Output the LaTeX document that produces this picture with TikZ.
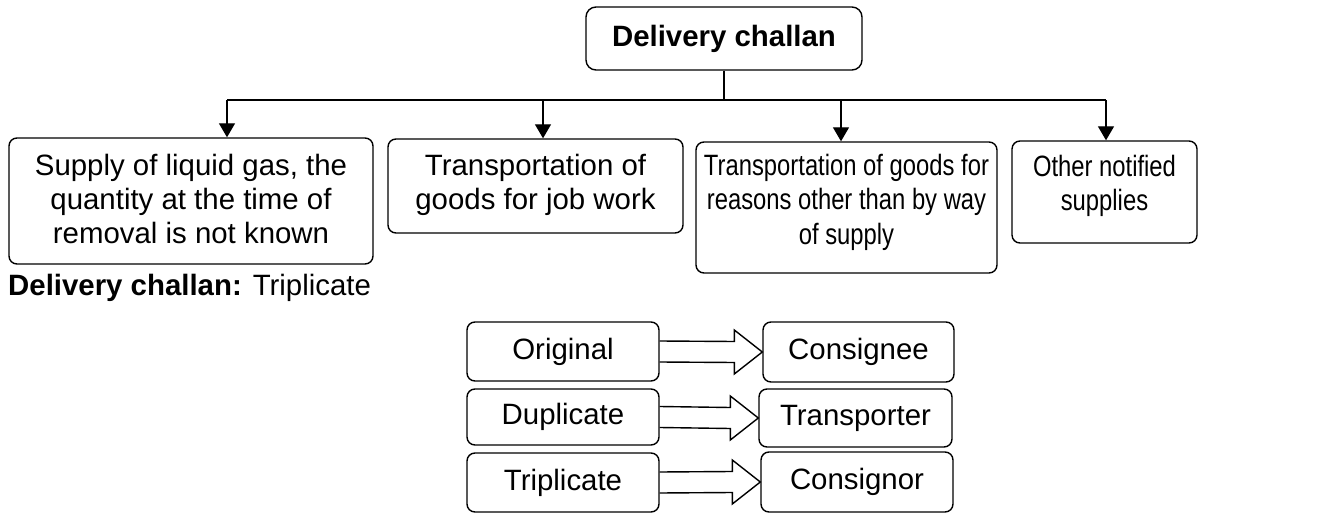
\documentclass[tikz,border=0pt]{standalone}
\usepackage{fontspec}
\setmainfont{Liberation Sans}
\newfontfamily\narrowfont[FakeStretch=0.81]{Liberation Sans}
\usetikzlibrary{calc,arrows.meta}
\newcommand\dropby[1]{\rule[-#1]{0pt}{#1}}
\begin{document}
\begin{tikzpicture}[x=1pt,y=-1pt,
  txt/.style={font=\fontsize{29.4}{34}\selectfont},
  box/.style={txt,draw,line width=1.4pt,rounded corners=8pt,align=center,inner sep=0pt},
  nbox/.style={box,font=\fontsize{29.4}{34.5}\selectfont\narrowfont},
  conn/.style={line width=1.4pt},
  arr/.style={line width=1.4pt,-{Triangle[width=16pt,length=14pt]}},
  blk/.style={line width=1.4pt,line join=miter}]
\useasboundingbox (0,0) rectangle (1325,513);
% top
\node[box,rounded corners=10pt,minimum width=276,minimum height=63,font=\fontsize{29.4}{34}\selectfont\bfseries] (top) at (724,38.5) {Delivery challan};
% categories
\node[box,minimum width=364,minimum height=126] (b1) at (191,201) {Supply of liquid gas, the\\ quantity at the time of\\ removal is not known\dropby{4pt}};
\node[box,minimum width=295,minimum height=94] (b2) at (535.5,186) {Transportation of\\ goods for job work\dropby{9pt}};
\node[nbox,minimum width=301,minimum height=131] (b3) at (846.5,207.5) {Transportation of goods for\\ reasons other than by way\\ of supply\dropby{17pt}};
\node[nbox,minimum width=185,minimum height=102] (b4) at (1104.5,192) {Other notified\\ supplies\dropby{18pt}};
% bus
\coordinate (bus) at (729,100);
\coordinate (bus1) at (227,100);
\coordinate (bus2) at (543,100);
\coordinate (bus3) at (841,100);
\coordinate (bus4) at (1106,100);
\draw[conn] (top.south) -- (top.south |- bus);
\draw[conn] (bus1) -- (bus4);
\draw[arr] (bus1) -- (bus1 |- b1.north);
\draw[arr] (bus2) -- (bus2 |- b2.north);
\draw[arr] (bus3) -- (bus3 |- b3.north);
\draw[arr] (bus4) -- (bus4 |- b4.north);
% label
\node[txt,anchor=base west,inner sep=0pt] (lbl) at (8,295) {\textbf{Delivery challan:} Triplicate};
% copies
\node[box,minimum width=192,minimum height=59] (o) at (563,351.5) {Original};
\node[box,minimum width=192,minimum height=56] (d) at (563,417) {Duplicate};
\node[box,minimum width=192,minimum height=59] (t) at (563,482.5) {Triplicate};
\node[box,minimum width=191,minimum height=60] (ce) at (858.5,352) {Consignee};
\node[box,minimum width=193,minimum height=58] (tr) at (855.5,418) {Transporter};
\node[box,minimum width=192,minimum height=60] (cr) at (857,482) {Consignor};
\foreach \s/\e in {o/ce,d/tr,t/cr}{
  \draw[blk] ($(\s.east)+(0,-10.5)$) -- ($(\e.west)+(-28,-10.5)$) -- ($(\e.west)+(-28,-22)$) -- (\e.west) -- ($(\e.west)+(-28,22)$) -- ($(\e.west)+(-28,10.5)$) -- ($(\s.east)+(0,10.5)$);
}
\end{tikzpicture}
\end{document}
